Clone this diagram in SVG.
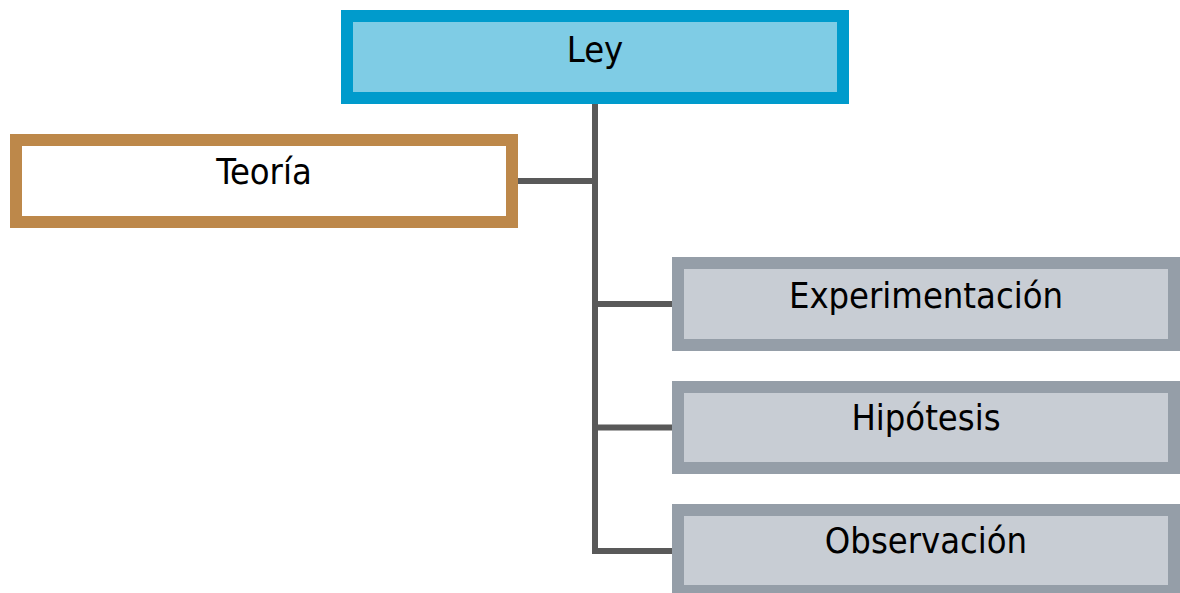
<svg xmlns="http://www.w3.org/2000/svg" width="1180" height="593" viewBox="0 0 1180 593">
  <style>
    .box { stroke-width: 12; }
    .law { fill: #7FCCE5; stroke: #009BCC; }
    .theory { fill: #FFFFFF; stroke: #BD884A; }
    .step { fill: #C8CDD4; stroke: #959EA8; }
    .label { font-family: "DejaVu Sans Condensed", "DejaVu Sans", sans-serif; font-size: 36px; fill: #000000; text-anchor: middle; }
    .link { fill: none; stroke: #595959; stroke-width: 6; }
  </style>
  <rect width="1180" height="593" fill="#FFFFFF"/>

  <!-- connectors -->
  <g id="connectors">
    <line class="link" x1="595" y1="104" x2="595" y2="554"/>
    <line class="link" x1="518" y1="181" x2="598" y2="181"/>
    <line class="link" x1="592" y1="304" x2="672" y2="304"/>
    <line class="link" x1="592" y1="427.5" x2="672" y2="427.5"/>
    <polyline class="link" points="595,548 595,551 672,551"/>
  </g>

  <g id="ley">
    <rect class="box law" x="347" y="16" width="496" height="82"/>
    <text class="label" x="595" y="62">Ley</text>
  </g>

  <g id="teoria">
    <rect class="box theory" x="16" y="140" width="496" height="82"/>
    <text class="label" x="264" y="184">Teoría</text>
  </g>

  <g id="experimentacion">
    <rect class="box step" x="678" y="263" width="496" height="82"/>
    <text class="label" x="926" y="308">Experimentación</text>
  </g>

  <g id="hipotesis">
    <rect class="box step" x="678" y="387" width="496" height="81"/>
    <text class="label" x="926" y="430">Hipótesis</text>
  </g>

  <g id="observacion">
    <rect class="box step" x="678" y="510" width="496" height="81"/>
    <text class="label" x="926" y="553">Observación</text>
  </g>
</svg>
